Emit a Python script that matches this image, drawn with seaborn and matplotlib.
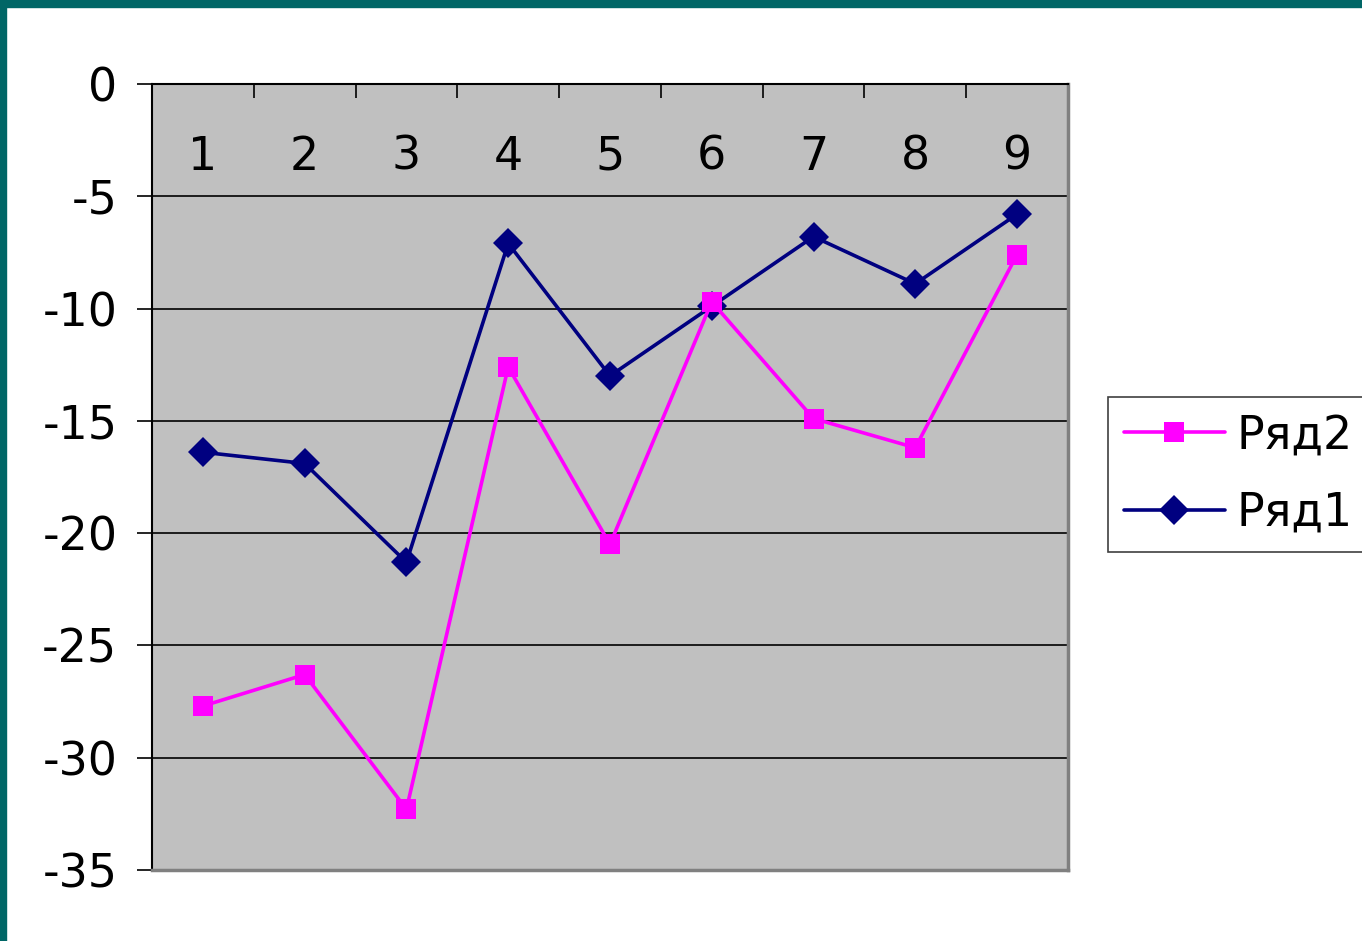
import matplotlib
matplotlib.use("Agg")
import matplotlib.pyplot as plt
from matplotlib.lines import Line2D
from matplotlib.patches import Rectangle
import seaborn as sns
import pandas as pd
import numpy as np

categories = ["1", "2", "3", "4", "5", "6", "7", "8", "9"]
row1 = [-16.4, -16.9, -21.3, -7.1, -13.0, -9.9, -6.8, -8.9, -5.8]
row2 = [-27.7, -26.3, -32.3, -12.6, -20.5, -9.7, -14.9, -16.2, -7.6]
series_names = ["Ряд1", "Ряд2"]
y_ticks = [0, -5, -10, -15, -20, -25, -30, -35]

pos = np.arange(len(categories))
df = pd.DataFrame({
    "pos": np.concatenate([pos, pos]),
    "value": row1 + row2,
    "series": [series_names[0]] * len(row1) + [series_names[1]] * len(row2),
})

sns.set_style("white")
plt.rcParams['font.family'] = ['DejaVu Sans']
plt.rcParams['text.color'] = 'black'

colors = {"Ряд1": "#000080", "Ряд2": "#ff00ff"}
markers = {"Ряд1": "D", "Ряд2": "s"}
fs = 33

fig = plt.figure(figsize=(13.62, 9.41), dpi=100)
fig.patch.set_facecolor("white")
# teal frame on the left and top edges
fig.add_artist(Rectangle((0, 0), 0.0045, 1, transform=fig.transFigure, color="#006666", zorder=10))
fig.add_artist(Rectangle((0, 0.9925), 1, 0.0075, transform=fig.transFigure, color="#006666", zorder=10))

ax = fig.add_axes([0.1116, 0.0755, 0.6725, 0.8353])
ax.set_facecolor("#c0c0c0")

sns.lineplot(data=df, x="pos", y="value", hue="series", style="series",
             palette=colors, markers=markers, dashes=False, markersize=15,
             linewidth=2.6, markeredgewidth=0, legend=False, ax=ax, zorder=3)

ax.set_xlim(-0.5, len(categories) - 0.5)
ax.set_ylim(-35, 0)
ax.set_yticks(y_ticks)
ax.set_yticklabels([str(v) for v in y_ticks])
ax.set_xlabel("")
ax.set_ylabel("")

ax.yaxis.grid(True, color="black", linewidth=1.2)
ax.set_axisbelow(True)

# category labels sit inside the plot under the top axis, ticks between categories
ax.set_xticks(pos)
ax.set_xticklabels(categories)
ax.set_xticks(np.arange(0.5, len(categories), 1.0), minor=True)
ax.tick_params(axis="x", which="major", top=True, bottom=False, labeltop=True,
               labelbottom=False, length=0, pad=-69, labelsize=fs, labelcolor="black")
ax.tick_params(axis="x", which="minor", top=True, bottom=False, direction="in",
               length=10, width=1.2, color="black")
ax.tick_params(axis="y", which="major", left=True, direction="out", length=11,
               width=1.2, color="black", pad=14, labelsize=fs, labelcolor="black")

for side in ["left", "top"]:
    ax.spines[side].set_color("black")
    ax.spines[side].set_linewidth(1.5)
for side in ["right", "bottom"]:
    ax.spines[side].set_color("#808080")
    ax.spines[side].set_linewidth(2.5)

handles = [Line2D([], [], color=colors[s], marker=markers[s], markersize=15,
                  markeredgewidth=0, linewidth=2.6) for s in ["Ряд2", "Ряд1"]]
leg = fig.legend(handles, ["Ряд2", "Ряд1"], loc="center left",
                 bbox_to_anchor=(0.8135, 0.4957), bbox_transform=fig.transFigure,
                 fontsize=fs, frameon=True, fancybox=False, framealpha=1,
                 edgecolor="#404040", handlelength=2.2, handletextpad=0.26,
                 borderpad=0.35, labelspacing=0.7, borderaxespad=0)
leg.get_frame().set_linewidth(1.2)
for t in leg.get_texts():
    t.set_color("black")

fig.savefig("out.png", dpi=100)
